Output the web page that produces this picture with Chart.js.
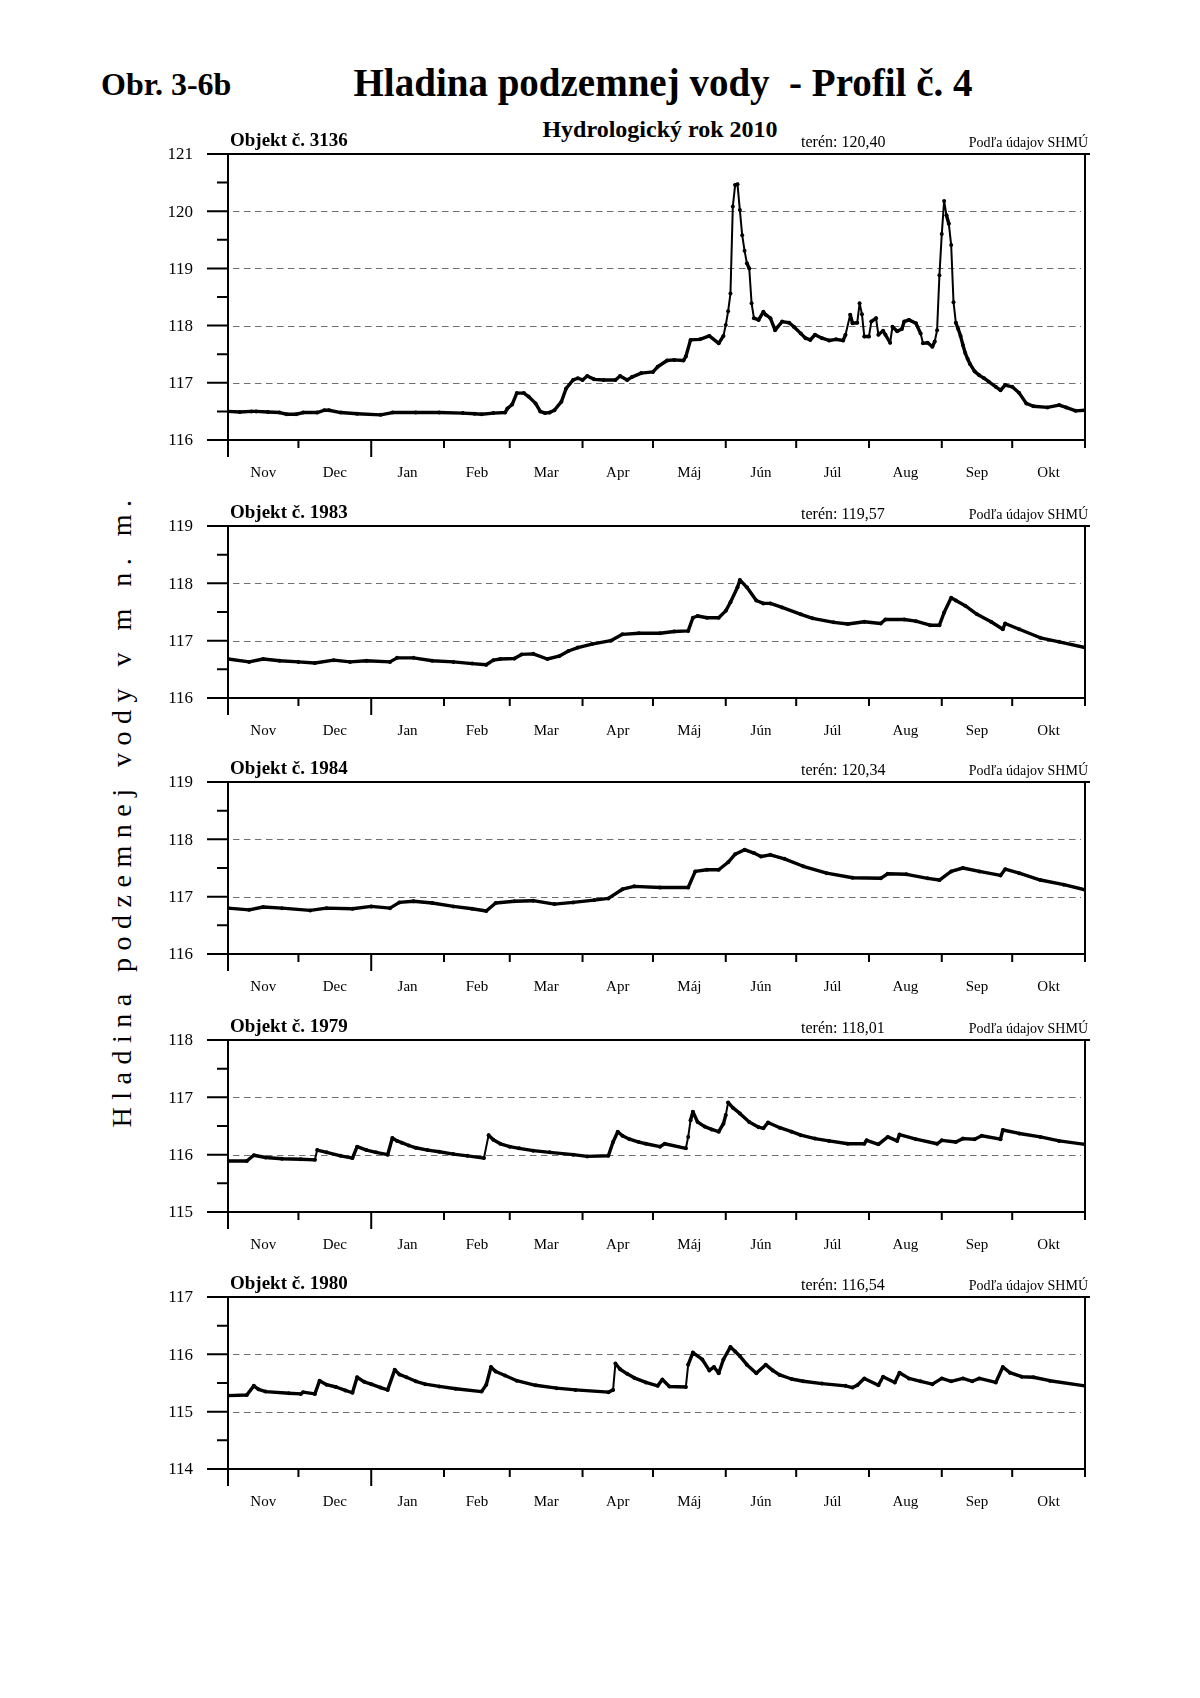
<!DOCTYPE html>
<html>
<head>
<meta charset="utf-8">
<script src="https://cdn.jsdelivr.net/npm/chart.js@4.4.1/dist/chart.umd.min.js"></script>
<style>
  body { margin: 0; background: #fff; }
  #page { position: relative; width: 1200px; height: 1698px; overflow: hidden; background: #fff;
          font-family: 'Liberation Serif', 'Times New Roman', serif; color: #000; }
  .txt { position: absolute; white-space: pre; line-height: 1; }
  canvas { position: absolute; left: 0; }
</style>
</head>
<body>
<div id="page">
  <div class="txt" style="left:101px;top:68px;font-size:32px;font-weight:bold;">Obr. 3-6b</div>
  <div class="txt" style="left:663px;top:63px;font-size:39px;font-weight:bold;transform:translateX(-50%);">Hladina podzemnej vody  - Profil č. 4</div>
  <div class="txt" style="left:660px;top:117px;font-size:24px;font-weight:bold;transform:translateX(-50%);">Hydrologický rok 2010</div>
  <div class="txt" style="left:122px;top:810px;font-size:28px;letter-spacing:7.5px;transform:translate(-50%,-50%) rotate(-90deg);">Hladina podzemnej vody v m n. m.</div>
</div>
<script>
// hydrologický rok 2010: 1. 11. 2009 – 31. 10. 2010, x = deň od 1. novembra
const monthLabels = ['Nov', 'Dec', 'Jan', 'Feb', 'Mar', 'Apr', 'Máj', 'Jún', 'Júl', 'Aug', 'Sep', 'Okt'];
const monthDays = [30, 31, 31, 28, 31, 30, 31, 30, 31, 31, 30, 31];

const objectNames = ['Objekt č. 3136', 'Objekt č. 1983', 'Objekt č. 1984', 'Objekt č. 1979', 'Objekt č. 1980'];
const terrainLabels = ['terén: 120,40', 'terén: 119,57', 'terén: 120,34', 'terén: 118,01', 'terén: 116,54'];
const sourceLabel = 'Podľa údajov SHMÚ';
const axisMin = [116, 116, 116, 115, 114];
const axisMax = [121, 119, 119, 118, 117];

const days3136 = [0, 5, 10, 12, 17, 22, 25, 29, 32, 38, 41, 43, 48, 55, 65, 70, 80, 90, 100, 105, 108, 113, 118,
  119, 121, 123, 126, 128, 131, 133, 135, 137, 139, 142, 144, 147, 149, 151, 153, 156, 160, 165, 167, 170, 172,
  176, 181, 183, 187, 190, 194, 195, 197, 201, 205, 209, 211, 212, 213, 214, 215, 216, 217, 218, 219, 220, 221,
  222, 223, 224, 226, 228, 229, 231, 233, 236, 239, 241, 244, 246, 248, 250, 253, 256, 259, 262, 263, 265, 266,
  268, 269, 270, 271, 273, 274, 276, 277, 279, 280, 282, 283, 285, 287, 288, 290, 293, 295, 296, 298, 300, 301,
  302, 303, 304, 305, 306, 307, 308, 309, 310, 311, 312, 313, 314, 315, 316, 318, 320, 322, 324, 327, 329, 331,
  334, 337, 340, 343, 349, 354, 357, 361, 365];
const level3136 = [116.50, 116.49, 116.50, 116.50, 116.49, 116.48, 116.45, 116.45, 116.48, 116.48, 116.52, 116.52,
  116.48, 116.46, 116.44, 116.48, 116.48, 116.48, 116.47, 116.46, 116.45, 116.47, 116.48,
  116.55, 116.62, 116.82, 116.82, 116.76, 116.64, 116.50, 116.47, 116.48, 116.52, 116.67, 116.90, 117.05, 117.08,
  117.05, 117.12, 117.06, 117.05, 117.05, 117.12, 117.05, 117.10,
  117.17, 117.19, 117.28, 117.39, 117.40, 117.39, 117.46, 117.75, 117.76, 117.82, 117.69, 117.82, 118.01, 118.25,
  118.56, 120.08, 120.46, 120.47, 120.02, 119.58, 119.31, 119.09,
  119.00, 118.39, 118.13, 118.10, 118.24, 118.19, 118.13, 117.92, 118.07, 118.05, 117.98, 117.86, 117.78, 117.75,
  117.84, 117.78, 117.74, 117.76, 117.74, 117.84, 118.19, 118.04,
  118.05, 118.39, 118.20, 117.81, 117.81, 118.07, 118.13, 117.84, 117.91, 117.84, 117.70, 117.98, 117.90, 117.94,
  118.07, 118.10, 118.04, 117.86, 117.69, 117.70, 117.63, 117.72,
  117.92, 118.88, 119.60, 120.18, 119.93, 119.78, 119.41, 118.41, 118.05, 117.94, 117.82, 117.66, 117.52, 117.42,
  117.33, 117.20, 117.13, 117.08, 117.02, 116.93, 116.87, 116.96,
  116.93, 116.82, 116.64, 116.59, 116.57, 116.61, 116.57, 116.51, 116.52];

const days1983 = [0, 9, 15, 22, 30, 37, 45, 52, 59, 69, 72, 79, 87, 96, 104, 110, 113, 116, 122, 125, 130, 136, 141,
  145, 149, 155, 163, 168, 175, 184, 190, 196, 198, 200, 204, 209, 212, 214, 217, 218, 221, 225, 228, 231, 236,
  244, 249, 258, 264, 271, 278, 280, 288, 293, 299, 303, 305, 308, 310, 314, 319, 325, 330, 331, 337, 346, 354, 365];
const level1983 = [116.68, 116.63, 116.68, 116.65, 116.63, 116.61, 116.66, 116.63, 116.65, 116.63, 116.70, 116.70,
  116.65, 116.63, 116.60, 116.58, 116.66, 116.68, 116.69, 116.76, 116.77, 116.68, 116.73,
  116.82, 116.88, 116.94, 117.00, 117.11, 117.13, 117.13, 117.16, 117.17, 117.40, 117.43, 117.40, 117.40, 117.52,
  117.67, 117.93, 118.06, 117.93, 117.70, 117.65, 117.65, 117.58,
  117.46, 117.39, 117.32, 117.29, 117.33, 117.30, 117.37, 117.37, 117.34, 117.27, 117.27, 117.49, 117.75, 117.70,
  117.61, 117.46, 117.33, 117.20, 117.30, 117.20, 117.05, 116.98, 116.88];

const days1984 = [0, 9, 15, 23, 35, 42, 53, 61, 69, 73, 79, 87, 96, 104, 110, 114, 122, 130, 139, 147, 156, 162, 168,
  173, 184, 196, 199, 204, 209, 213, 216, 220, 224, 227, 231, 237, 245, 255, 266, 278, 281, 289, 298, 303, 308,
  313, 320, 329, 331, 337, 346, 356, 365];
const level1984 = [116.80, 116.77, 116.82, 116.80, 116.76, 116.80, 116.79, 116.83, 116.80, 116.90, 116.92, 116.89,
  116.83, 116.79, 116.75, 116.89, 116.92, 116.93, 116.87, 116.90, 116.94, 116.97, 117.13,
  117.18, 117.16, 117.16, 117.44, 117.47, 117.47, 117.60, 117.74, 117.82, 117.76, 117.70, 117.73, 117.66, 117.53,
  117.41, 117.33, 117.32, 117.40, 117.39, 117.32, 117.29, 117.44,
  117.50, 117.44, 117.37, 117.48, 117.41, 117.29, 117.21, 117.12];

const days1979 = [0, 8, 11, 16, 23, 31, 37, 38, 42, 48, 53, 55, 59, 63, 68, 70, 72, 74, 77, 80, 85, 90, 96, 102, 109,
  111, 113, 116, 120, 124, 130, 137, 147, 153, 162, 164, 166, 168, 171, 175, 178, 184, 186, 195, 196, 197, 198, 200,
  203, 206, 209, 211, 212, 213, 215, 218, 222, 226, 228, 230, 235, 240, 244, 250, 256, 264, 271, 272, 277, 281, 285,
  286, 293, 302, 304, 310, 313, 318, 321, 329, 330, 337, 346, 354, 365];
const level1979 = [115.89, 115.89, 115.99, 115.95, 115.93, 115.92, 115.91, 116.08, 116.04, 115.98, 115.94, 116.14,
  116.08, 116.04, 116.00, 116.29, 116.24, 116.21, 116.16, 116.12, 116.08, 116.05, 116.01, 115.98, 115.94,
  116.34, 116.26, 116.19, 116.14, 116.11, 116.07, 116.04, 116.00, 115.97, 115.98, 116.22, 116.40, 116.33, 116.27,
  116.22, 116.19, 116.14, 116.19, 116.11, 116.31, 116.60, 116.75, 116.57,
  116.49, 116.44, 116.40, 116.54, 116.69, 116.91, 116.82, 116.72, 116.57, 116.48, 116.46, 116.56, 116.47, 116.40,
  116.34, 116.28, 116.24, 116.19, 116.19, 116.25, 116.18, 116.31, 116.24,
  116.35, 116.27, 116.19, 116.25, 116.22, 116.28, 116.27, 116.33, 116.27, 116.43, 116.37, 116.31, 116.24, 116.18];

const days1980 = [0, 8, 11, 13, 16, 26, 31, 32, 37, 39, 42, 46, 50, 53, 55, 58, 61, 65, 68, 71, 73, 76, 80, 84, 90,
  97, 108, 110, 112, 114, 118, 123, 131, 140, 148, 162, 164, 165, 167, 170, 173, 178, 183, 185, 188, 195, 196, 198,
  202, 205, 207, 209, 211, 214, 216, 218, 221, 225, 229, 232, 235, 240, 245, 253, 263, 266, 268, 271, 277, 279,
  284, 286, 290, 295, 300, 304, 308, 313, 317, 320, 327, 330, 333, 338, 343, 350, 365];
const level1980 = [115.28, 115.29, 115.45, 115.39, 115.35, 115.32, 115.31, 115.34, 115.31, 115.54, 115.47, 115.43,
  115.37, 115.33, 115.60, 115.52, 115.48, 115.42, 115.38, 115.73, 115.65, 115.60, 115.53, 115.48, 115.44,
  115.40, 115.35, 115.47, 115.78, 115.70, 115.63, 115.54, 115.46, 115.41, 115.38, 115.34, 115.38, 115.84, 115.74,
  115.66, 115.59, 115.51, 115.45, 115.56, 115.44, 115.43, 115.82, 116.03,
  115.91, 115.72, 115.78, 115.67, 115.91, 116.13, 116.05, 115.97, 115.82, 115.67, 115.82, 115.72, 115.64, 115.57,
  115.53, 115.49, 115.45, 115.42, 115.46, 115.58, 115.46, 115.61,
  115.51, 115.68, 115.58, 115.53, 115.48, 115.58, 115.53, 115.58, 115.53, 115.58, 115.51, 115.78, 115.68, 115.61,
  115.60, 115.54, 115.45];

const seriesDays = [days3136, days1983, days1984, days1979, days1980];
const seriesLevels = [level3136, level1983, level1984, level1979, level1980];

// rozloženie strany
const plotTops = [154, 526, 782, 1040, 1297];
const pxPerMeter = 57.2;
const padTop = 60, padBottom = 50, plotLeft = 228, plotRight = 1085;

const frame = {
  id: 'frame',
  beforeDatasetsDraw(chart) {
    const { ctx, chartArea: { left, right }, scales: { y } } = chart;
    ctx.save();
    ctx.strokeStyle = '#707070';
    ctx.lineWidth = 1;
    ctx.setLineDash([6.5, 4.5]);
    for (let v = y.min + 1; v < y.max; v++) {
      const py = Math.round(y.getPixelForValue(v)) + 0.5;
      ctx.beginPath();
      ctx.moveTo(left + 5, py);
      ctx.lineTo(right - 4, py);
      ctx.stroke();
    }
    ctx.restore();
  },
  afterDraw(chart, args, opts) {
    const { ctx, chartArea: { left, right, top, bottom }, scales: { x, y } } = chart;
    ctx.save();
    ctx.strokeStyle = '#000';
    ctx.lineWidth = 2;
    ctx.beginPath();
    ctx.moveTo(left, top); ctx.lineTo(right + 5, top);
    ctx.moveTo(left - 21, bottom); ctx.lineTo(right, bottom);
    ctx.moveTo(left, top); ctx.lineTo(left, bottom + 17);
    ctx.moveTo(right, top); ctx.lineTo(right, bottom + 8);
    // y ticks
    for (let v = y.min; v <= y.max + 1e-9; v += 0.5) {
      const py = y.getPixelForValue(v);
      const len = Number.isInteger(v) ? 21 : 11;
      ctx.moveTo(left - len, py); ctx.lineTo(left, py);
    }
    // x ticks at month boundaries
    let start = 0;
    monthDays.forEach((len, i) => {
      if (i > 0) {
        const px = x.getPixelForValue(start);
        ctx.moveTo(px, bottom);
        ctx.lineTo(px, bottom + (monthLabels[i] === 'Jan' ? 17 : 8));
      }
      start += len;
    });
    ctx.stroke();

    ctx.fillStyle = '#000';
    ctx.font = '17px "Liberation Serif"';
    ctx.textAlign = 'right';
    ctx.textBaseline = 'middle';
    for (let v = y.min; v <= y.max; v++) {
      ctx.fillText(String(v), left - 35, y.getPixelForValue(v) + 1);
    }

    ctx.font = '15px "Liberation Serif"';
    ctx.textAlign = 'center';
    ctx.textBaseline = 'alphabetic';
    start = 0;
    monthDays.forEach((len, i) => {
      ctx.fillText(monthLabels[i], x.getPixelForValue(start + len / 2), bottom + 37);
      start += len;
    });

    ctx.textAlign = 'left';
    ctx.font = 'bold 19px "Liberation Serif"';
    ctx.fillText(opts.name, left + 2, top - 8);
    ctx.font = '16px "Liberation Serif"';
    ctx.fillText(opts.terrain, 801, top - 7);
    ctx.textAlign = 'right';
    ctx.font = '14px "Liberation Serif"';
    ctx.fillText(sourceLabel, right + 3, top - 7);
    ctx.restore();
  },
};

const page = document.getElementById('page');

seriesDays.forEach((days, i) => {
  const plotHeight = (axisMax[i] - axisMin[i]) * pxPerMeter;
  const canvas = document.createElement('canvas');
  canvas.width = 1200;
  canvas.height = Math.round(plotHeight + padTop + padBottom);
  canvas.style.top = (plotTops[i] - padTop) + 'px';
  page.appendChild(canvas);

  new Chart(canvas, {
    type: 'line',
    data: {
      datasets: [{
        data: days.map((d, k) => ({ x: d, y: seriesLevels[i][k] })),
        borderColor: '#000',
        borderWidth: 3.4,
        borderJoinStyle: 'round',
        borderCapStyle: 'round',
        pointRadius: 2,
        pointBackgroundColor: '#000',
        pointBorderWidth: 0,
        tension: 0,
        segment: {
          borderWidth: (c) => Math.abs(c.p1.y - c.p0.y) > 4 * Math.abs(c.p1.x - c.p0.x) ? 2 : 3.4,
        },
      }],
    },
    options: {
      responsive: false,
      animation: false,
      layout: { padding: { left: plotLeft, right: 1200 - plotRight, top: padTop, bottom: padBottom } },
      plugins: {
        legend: { display: false },
        tooltip: { enabled: false },
        frame: { name: objectNames[i], terrain: terrainLabels[i] },
      },
      scales: {
        x: { type: 'linear', min: 0, max: 365, display: false },
        y: { type: 'linear', min: axisMin[i], max: axisMax[i], display: false },
      },
    },
    plugins: [frame],
  });
});
</script>
</body>
</html>
